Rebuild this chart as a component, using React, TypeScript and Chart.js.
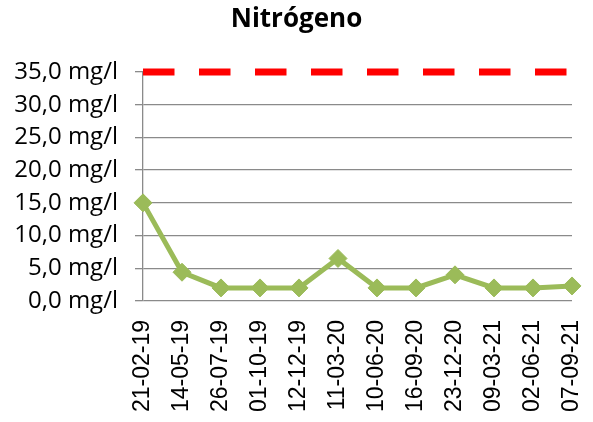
import React, { useEffect, useRef } from 'react';
import { Chart, registerables } from 'chart.js';

Chart.register(...registerables);

const dates = ['21-02-19', '14-05-19', '26-07-19', '01-10-19', '12-12-19', '11-03-20', '10-06-20', '16-09-20', '23-12-20', '09-03-21', '02-06-21', '07-09-21'];
const nitrogen = [15, 4.4, 2, 2, 2, 6.5, 2, 2, 4, 2, 2, 2.3];
const limit = [35, 35, 35, 35, 35, 35, 35, 35, 35, 35, 35, 35];
const yMin = 0;
const yMax = 35;
const yStep = 5;
const titleText = 'Nitrógeno';

const GRID = '#8a8a8a';

export default function App() {
  const ref = useRef<HTMLCanvasElement>(null);
  useEffect(() => {
    if (!ref.current) return;
    const chart = new Chart(ref.current, {
      type: 'line',
      data: {
        labels: dates,
        datasets: [
          {
            data: limit,
            borderColor: '#FF0000',
            borderWidth: 7,
            borderDash: [31.5, 24.5],
            borderCapStyle: 'butt',
            pointRadius: 0,
            fill: false,
            clip: false as any,
            order: 2,
          },
          {
            data: nitrogen,
            borderColor: '#9BBB59',
            backgroundColor: '#9BBB59',
            borderWidth: 5,
            pointStyle: 'rectRot',
            pointRadius: 9,
            pointBorderWidth: 1,
            pointBorderColor: '#9BBB59',
            pointBackgroundColor: '#9BBB59',
            fill: false,
            clip: false as any,
            order: 1,
          },
        ],
      },
      options: {
        responsive: false,
        animation: false,
        devicePixelRatio: 1,
        layout: { padding: 0 },
        plugins: {
          legend: { display: false },
          tooltip: { enabled: false },
          title: {
            display: true,
            text: titleText,
            color: '#000',
            font: { family: 'Open Sans', size: 26, weight: 'bold' },
            padding: { top: 4, bottom: 36.8 },
          },
        },
        scales: {
          x: {
            offset: false,
            grid: { display: false, drawTicks: false },
            border: { display: false },
            ticks: {
              autoSkip: false,
              maxRotation: 90,
              minRotation: 90,
              padding: 19,
              color: '#000',
              font: { family: 'Liberation Sans', size: 23 },
            },
            afterFit: (s: any) => {
              s.height = 121;
              s.paddingLeft = 0;
              s.paddingRight = 21;
            },
          },
          y: {
            min: yMin,
            max: yMax,
            ticks: {
              stepSize: yStep,
              padding: 17,
              color: '#000',
              font: { family: 'Open Sans', size: 24 },
              callback: (v: any) => Number(v).toFixed(1).replace('.', ',') + ' mg/l',
            },
            grid: {
              color: (ctx: any) => (ctx.tick && ctx.tick.value === yMax ? 'rgba(0,0,0,0)' : GRID),
              tickColor: GRID,
              tickLength: 8,
              lineWidth: 1.3,
            },
            border: { display: true, color: GRID, width: 1.3 },
            afterFit: (s: any) => { s.width = 143; },
          },
        },
      },
    });
    return () => chart.destroy();
  }, []);
  return (
    <div style={{ position: 'fixed', left: 0, top: 0, width: 593, height: 422, background: '#fff' }}>
      <canvas ref={ref} width={593} height={422} />
    </div>
  );
}
